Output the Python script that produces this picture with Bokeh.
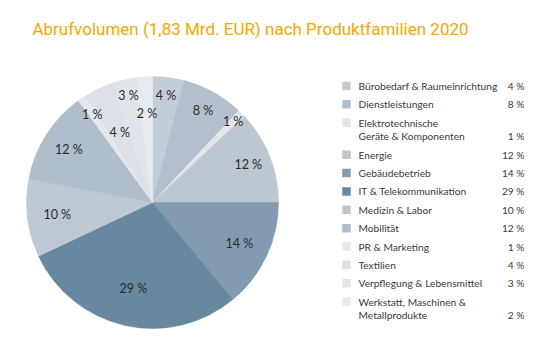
import math
from bokeh.plotting import figure
from bokeh.models import Range1d, ColumnDataSource
from bokeh.core.properties import value
from bokeh.embed import file_html
from bokeh.resources import INLINE

# ---------------- data ----------------
title = "Abrufvolumen (1,83 Mrd. EUR) nach Produktfamilien 2020"
categories = [
    "Bürobedarf & Raumeinrichtung",
    "Dienstleistungen",
    "Elektrotechnische\nGeräte & Komponenten",
    "Energie",
    "Gebäudebetrieb",
    "IT & Telekommunikation",
    "Medizin & Labor",
    "Mobilität",
    "PR & Marketing",
    "Textilien",
    "Verpflegung & Lebensmittel",
    "Werkstatt, Maschinen &\nMetallprodukte",
]
shares = [4, 8, 1, 12, 14, 29, 10, 12, 1, 4, 3, 2]

# ---------------- style ----------------
colors = ["#c3cdd7", "#b3c0cc", "#e2e6ea", "#bcc7d1", "#839bb0", "#67889f",
          "#bdc8d2", "#b0bdca", "#e4e7eb", "#dce1e7", "#e1e5ea", "#e7eaee"]
label_radius = [108, 105, 114, 103, 96, 88, 96, 99, 107, 77, 110, 89]

W, H = 550, 350
CX, CY, R = 152, H - 202, 126
FONT = "Lato"

p = figure(width=W, height=H, output_backend="svg", toolbar_location=None,
           x_range=Range1d(0, W), y_range=Range1d(0, H), min_border=0)
p.axis.visible = False
p.grid.visible = False
p.outline_line_color = None
p.background_fill_color = "white"
p.border_fill_color = "white"

# pie wedges
total = float(sum(shares))
starts, ends, mids = [], [], []
cum = 0.0
for s in shares:
    a0 = math.pi / 2 - 2 * math.pi * cum / total
    cum += s
    a1 = math.pi / 2 - 2 * math.pi * cum / total
    starts.append(a0)
    ends.append(a1)
    mids.append((a0 + a1) / 2)

pie = ColumnDataSource(dict(start=starts, end=ends, color=colors))
p.wedge(x=CX, y=CY, radius=R, start_angle="start", end_angle="end",
        direction="clock", fill_color="color", line_color="color",
        line_width=0.5, source=pie)

pct = [f"{s} %" for s in shares]
lx = [CX + r * math.cos(m) for r, m in zip(label_radius, mids)]
ly = [CY + r * math.sin(m) for r, m in zip(label_radius, mids)]
p.text(x=lx, y=ly, text=pct, text_align="center", text_baseline="middle",
       text_font=value(FONT), text_font_size="12.5px", text_color="#2b2b2b")

# legend
ROW0, PITCH, LINE = 85.5, 18.35, 13.7
MX, TX, PX = 346, 358, 524
mk_x, mk_y, mk_c = [], [], []
tx, ty, tt = [], [], []
px, py, pt = [], [], []
y = ROW0
for cat, c, s in zip(categories, colors, pct):
    lines = cat.split("\n")
    mk_x.append(MX); mk_y.append(H - y); mk_c.append(c)
    for k, ln in enumerate(lines):
        tx.append(TX); ty.append(H - (y + k * LINE)); tt.append(ln)
    px.append(PX); py.append(H - (y + (len(lines) - 1) * LINE)); pt.append(s)
    y += PITCH + (len(lines) - 1) * LINE

p.scatter(x=mk_x, y=mk_y, marker="square", size=8.5, fill_color=mk_c,
          line_color=None)
p.text(x=tx, y=ty, text=tt, text_align="left", text_baseline="middle",
       text_font=value(FONT), text_font_size="10.2px", text_color="#3a3a3a")
p.text(x=px, y=py, text=pt, text_align="right", text_baseline="middle",
       text_font=value(FONT), text_font_size="10.2px", text_color="#3a3a3a")

# title
p.text(x=[250], y=[H - 28], text=[title], text_align="center",
       text_baseline="middle", text_font=value("Roboto"),
       text_font_size="17px", text_color="#f5a800")

open("out.html", "w").write(file_html(p, INLINE))
